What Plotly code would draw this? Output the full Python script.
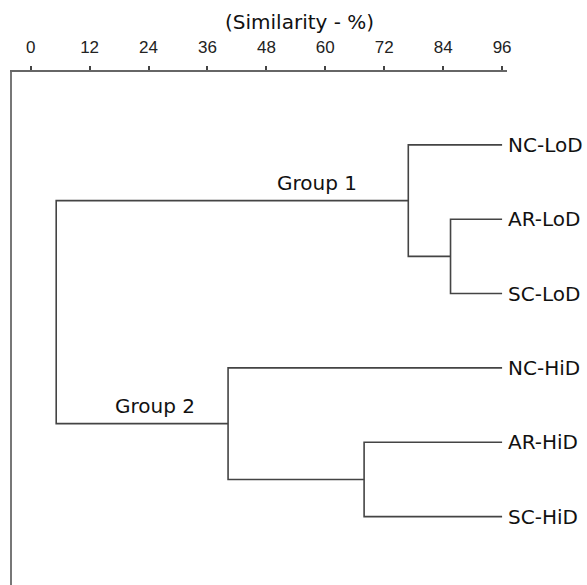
import plotly.graph_objects as go

# ---- data ----
leaf_labels = ["NC-LoD", "AR-LoD", "SC-LoD", "NC-HiD", "AR-HiD", "SC-HiD"]
leaf_similarity = 96.0
# linkage rows: (child a, child b, similarity %) ; new node ids start at len(leaves)
merge_a = [1, 4, 0, 3, 8]
merge_b = [2, 5, 6, 7, 9]
merge_sim = [85.5, 67.9, 76.9, 40.2, 5.2]
group_labels = ["Group 1", "Group 2"]
tick_values = [0, 12, 24, 36, 48, 60, 72, 84, 96]
axis_title = "(Similarity - %)"

# ---- build dendrogram geometry ----
n = len(leaf_labels)
node_x = {i: leaf_similarity for i in range(n)}
node_y = {i: float(i) for i in range(n)}
seg_x, seg_y = [], []
for k, (a, b, s) in enumerate(zip(merge_a, merge_b, merge_sim)):
    nid = n + k
    node_x[nid] = s
    node_y[nid] = (node_y[a] + node_y[b]) / 2
    seg_x += [node_x[a], s, s, node_x[b], None]
    seg_y += [node_y[a], node_y[a], node_y[b], node_y[b], None]

fig = go.Figure()
fig.add_trace(go.Scatter(x=seg_x, y=seg_y, mode="lines",
                         line=dict(color="#444444", width=1.6),
                         hoverinfo="skip", showlegend=False))

for i, lab in enumerate(leaf_labels):
    fig.add_annotation(x=leaf_similarity, y=node_y[i], text=lab, showarrow=False,
                       xanchor="left", yanchor="middle", xshift=4,
                       font=dict(family="DejaVu Sans", size=20, color="#111111"))

# group labels on the branches to nodes 8 and 9
group_nodes = [n + 2, n + 3]
group_x = [58.3, 25.4]
for lab, nid, gx in zip(group_labels, group_nodes, group_x):
    fig.add_annotation(x=gx, y=node_y[nid], text=lab, showarrow=False,
                       xanchor="center", yanchor="bottom", yshift=4,
                       font=dict(family="DejaVu Sans", size=20, color="#111111"))

fig.add_annotation(xref="paper", yref="paper", x=0.58, y=1, yshift=50,
                   text=axis_title, showarrow=False, xanchor="center", yanchor="middle",
                   font=dict(family="DejaVu Sans", size=20, color="#111111"))

fig.update_xaxes(side="top", range=[-3.8, 97.0], tickvals=tick_values,
                 ticktext=[str(v) for v in tick_values],
                 showgrid=False, zeroline=False, showline=True,
                 linecolor="#666666", linewidth=2,
                 ticks="outside", ticklen=4, tickwidth=1.5, tickcolor="#444444",
                 ticklabelstandoff=6,
                 tickfont=dict(family="Liberation Sans", size=17, color="#222222"))
fig.update_yaxes(range=[5.92, -0.98], showgrid=False, zeroline=False,
                 showline=True, linecolor="#777777", linewidth=2,
                 showticklabels=False, ticks="")

fig.update_layout(width=587, height=585,
                  margin=dict(l=12, r=80, t=72, b=0),
                  plot_bgcolor="white", paper_bgcolor="white")

fig.write_html("out.html")
